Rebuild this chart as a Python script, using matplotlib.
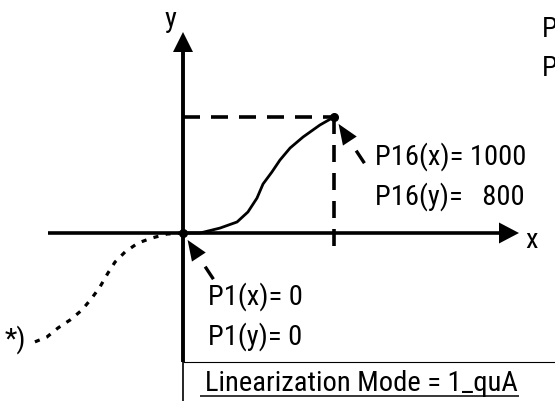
import matplotlib
matplotlib.use('Agg')
import matplotlib.pyplot as plt
from matplotlib import font_manager as fm
from matplotlib.patches import Polygon
import numpy as np

# linearization points
p1 = (0, 0)
p16 = (1000, 800)

# curve between P1 and P16
curve_x = [0, 113, 245, 358, 430, 490, 530, 589, 642, 709, 795, 907, 1000]
curve_y = [0, 0, 34, 76, 145, 241, 338, 421, 503, 586, 662, 745, 800]

# extrapolated part left of P1, marked with *)
extra_x = [0, -106, -205, -298, -384, -450, -497, -550, -603, -669, -748, -828, -901, -1000]
extra_y = [0, -7, -34, -69, -131, -200, -276, -372, -448, -531, -600, -655, -717, -759]

# pixel layout of the drawing (origin and scale)
W, H = 555, 401
ox, oy = 183, 233
sx, sy = 151 / 1000, 116 / 800


def px(x, y):
    """pixel position -> data coords"""
    return ((x - ox) / sx, (oy - y) / sy)


def to_px(x, y):
    return (ox + x * sx, oy - y * sy)


# look for a narrow / condensed regular face, the drawing uses one
fp = None
for key in ['LiberationSansNarrow-Regular', 'RobotoCondensed-Regular', 'OpenSans_Condensed-Regular',
            'OpenSansCondensed', 'DejaVuSansCondensed.ttf', 'Condensed-Regular', 'Narrow-Regular']:
    hits = [f.fname for f in fm.fontManager.ttflist if key in f.fname]
    if hits:
        fp = fm.FontProperties(fname=sorted(hits)[0])
        break
if fp is None:
    fp = fm.FontProperties(family='Roboto')
    FS = 18.5
else:
    FS = 20.5
fp.set_size(FS)

fig = plt.figure(figsize=(W / 100, H / 100), dpi=100)
ax = fig.add_axes([0, 0, 1, 1])
ax.set_xlim(px(0, 0)[0], px(W, 0)[0])
ax.set_ylim(px(0, H)[1], px(0, 0)[1])
ax.axis('off')


def head(tip, d, length, width):
    """filled arrow head, tip in pixels, d = unit vector from tip to base"""
    tip = np.array(tip, float)
    d = np.array(d, float) / np.hypot(*d)
    n = np.array([-d[1], d[0]])
    base = tip + d * length
    pts = [tip, base + n * width / 2, base - n * width / 2]
    ax.add_patch(Polygon([px(*p) for p in pts], closed=True, color='k', lw=0))


def seg(a, b, **kw):
    a, b = px(*a), px(*b)
    ax.plot([a[0], b[0]], [a[1], b[1]], color='k', solid_capstyle='butt', **kw)


def label(x, y, s, **kw):
    return ax.text(*px(x, y), s, fontproperties=fp, va='baseline', **kw)


# axes
seg((48, oy), (502, oy), lw=2.6)
head((519, oy), (-1, 0), 20, 21)
seg((ox, 362), (ox, 50), lw=2.8)
head((ox, 32), (0, 1), 20, 20)
label(170, 27, 'y', ha='center')
label(532, 248, 'x', ha='center')

# dashed guide lines to P16
lw_d = 2.6
on, off = 17 * 0.72 / lw_d, 11 * 0.72 / lw_d
ax.plot([0, p16[0]], [p16[1], p16[1]], color='k', lw=lw_d, linestyle=(0, (on, off)), dash_capstyle='butt')
ax.plot([p16[0], p16[0]], [p16[1], px(0, 248)[1]], color='k', lw=lw_d, linestyle=(0, (on, off)), dash_capstyle='butt')

# curves
ax.plot(curve_x, curve_y, color='k', lw=2.0, solid_capstyle='round')
ax.plot(extra_x, extra_y, color='k', lw=2.3, linestyle=(0, (1.6, 2.3)), dash_capstyle='butt')
ax.plot(*zip(p1, p16), 'o', color='k', ms=5.5, linestyle='none')

# pointer arrows
d = np.array([0.55, 0.835])
d = d / np.hypot(*d)
for p in (p1, p16):
    tip = np.array(to_px(*p)) + 8.3 * d
    head(tip, d, 20.5, 16.5)
    seg(tip + 32 * d, tip + 47 * d, lw=2.4)

label(375, 165, 'P16(x)= 1000')
label(375, 205, 'P16(y)=   800')
label(208, 305, 'P1(x)= 0')
label(208, 345, 'P1(y)= 0')
label(5, 348, '*)')

# mode box
seg((ox, 362), (W, 362), lw=0.8)
seg((ox, 362), (ox, H), lw=1.2)
mode = label(205, 391, 'Linearization Mode = 1_quA')

# underline as long as the text
fig.canvas.draw()
bb = mode.get_window_extent()
seg((200, 395.5), (min(bb.x1 + 1, W), 395.5), lw=1.1)

# text cut off at the right edge of the drawing
label(542, 37, 'P')
label(542, 76, 'P')

fig.savefig('out.png', dpi=100)
